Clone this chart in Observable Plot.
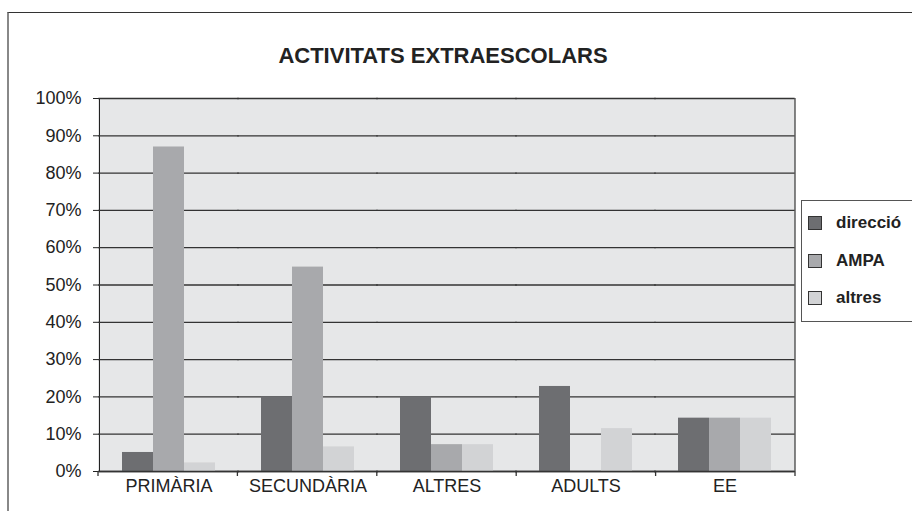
<!DOCTYPE html>
<html>
<head>
<meta charset="utf-8">
<script src="https://cdn.jsdelivr.net/npm/d3@7"></script>
<script src="https://cdn.jsdelivr.net/npm/@observablehq/plot@0.6"></script>
<style>
  body { margin: 0; background: #fff; font-family: "Liberation Sans", Arial, sans-serif; }
  #wrap { position: relative; width: 912px; height: 511px; overflow: hidden; }
  #border { position: absolute; left: 7px; top: 12px; right: -2px; bottom: -2px; border-top: 1px solid #333; border-left: 2px solid #888; }
  #title { position: absolute; left: 0; width: 886px; top: 45px; text-align: center; font-weight: bold; font-size: 22px; line-height: 1; color: #222; }
  #chart { position: absolute; left: 0; top: 0; }
  #legend { position: absolute; left: 801px; top: 200px; width: 130px; height: 120px; border: 1px solid #555; background: #fff; }
  .item { position: absolute; left: 6px; display: flex; align-items: center; font-weight: bold; font-size: 17px; color: #222; }
  .sw { width: 12px; height: 12px; border: 1px solid #333; margin-right: 14px; }
</style>
</head>
<body>
<div id="wrap">
  <div id="border"></div>
  <div id="chart"></div>
  <div id="title">ACTIVITATS EXTRAESCOLARS</div>
  <div id="legend"></div>
</div>
<script>
const categories = ["PRIMÀRIA", "SECUNDÀRIA", "ALTRES", "ADULTS", "EE"];
const series = ["direcció", "AMPA", "altres"];
const direccio = [0.051, 0.20, 0.20, 0.228, 0.143];
const ampa = [0.87, 0.548, 0.072, 0, 0.143];
const altres = [0.023, 0.066, 0.072, 0.115, 0.143];
const yTicks = [0, 0.1, 0.2, 0.3, 0.4, 0.5, 0.6, 0.7, 0.8, 0.9, 1.0];
const colors = ["#6d6e71", "#a8a9ac", "#d2d3d5"];

const values = [direccio, ampa, altres];
const data = [];
categories.forEach((c, i) => series.forEach((s, j) => data.push({category: c, series: s, value: values[j][i]})));

const plot = Plot.plot({
  width: 912,
  height: 511,
  marginLeft: 98,
  marginRight: 117,
  marginTop: 98,
  marginBottom: 40,
  style: {fontFamily: "Liberation Sans, Arial, sans-serif", fontSize: "18px", color: "#222", background: "transparent"},
  fx: {domain: categories, padding: 0, label: null, tickSize: 0, tickPadding: 8, axis: "bottom"},
  x: {domain: series, paddingInner: 0, paddingOuter: 0.73, axis: null},
  y: {domain: [0, 1], ticks: yTicks, tickFormat: d3.format(".0%"), label: null, tickSize: 6, tickPadding: 12, line: true},
  color: {domain: series, range: colors},
  marks: [
    Plot.ruleY(yTicks, {stroke: "#333", strokeWidth: 1.3, insetLeft: -0.7, insetRight: -0.7}),
    Plot.barY(data, {fx: "category", x: "series", y: "value", fill: "series"}),
    Plot.ruleY([0], {stroke: "#333", strokeWidth: 1.5, insetLeft: -0.7, insetRight: -0.7})
  ]
});
document.getElementById("chart").appendChild(plot);

// plot-area background, category boundary ticks and right border from the library's scales
const fxs = plot.scale("fx");
const ys = plot.scale("y");
const band = d3.scaleBand().domain(fxs.domain).range(fxs.range).paddingInner(0).paddingOuter(0);
const bounds = fxs.domain.map(d => band(d)).concat([band(fxs.domain[fxs.domain.length - 1]) + band.bandwidth()]);
const y0 = Math.max(...ys.range), y1 = Math.min(...ys.range);
const xL = bounds[0], xR = bounds[bounds.length - 1];
const svg = d3.select(plot);
svg.insert("rect", ":first-child")
  .attr("x", xL).attr("y", y1).attr("width", xR - xL).attr("height", y0 - y1)
  .attr("fill", "#e6e7e8");
svg.append("g").selectAll("line").data(bounds).join("line")
  .attr("x1", d => d).attr("x2", d => d).attr("y1", y0).attr("y2", y0 + 5)
  .attr("stroke", "#333").attr("stroke-width", 1.3);
svg.append("line")
  .attr("x1", xR).attr("x2", xR)
  .attr("y1", y1).attr("y2", y0).attr("stroke", "#444").attr("stroke-width", 1.3);

// legend
const legend = document.getElementById("legend");
series.forEach((s, i) => {
  const it = document.createElement("div");
  it.className = "item";
  it.style.top = (12 + i * 37.5) + "px";
  const sw = document.createElement("div");
  sw.className = "sw";
  sw.style.background = colors[i];
  it.appendChild(sw);
  const t = document.createElement("span");
  t.textContent = s;
  it.appendChild(t);
  legend.appendChild(it);
});
</script>
</body>
</html>
